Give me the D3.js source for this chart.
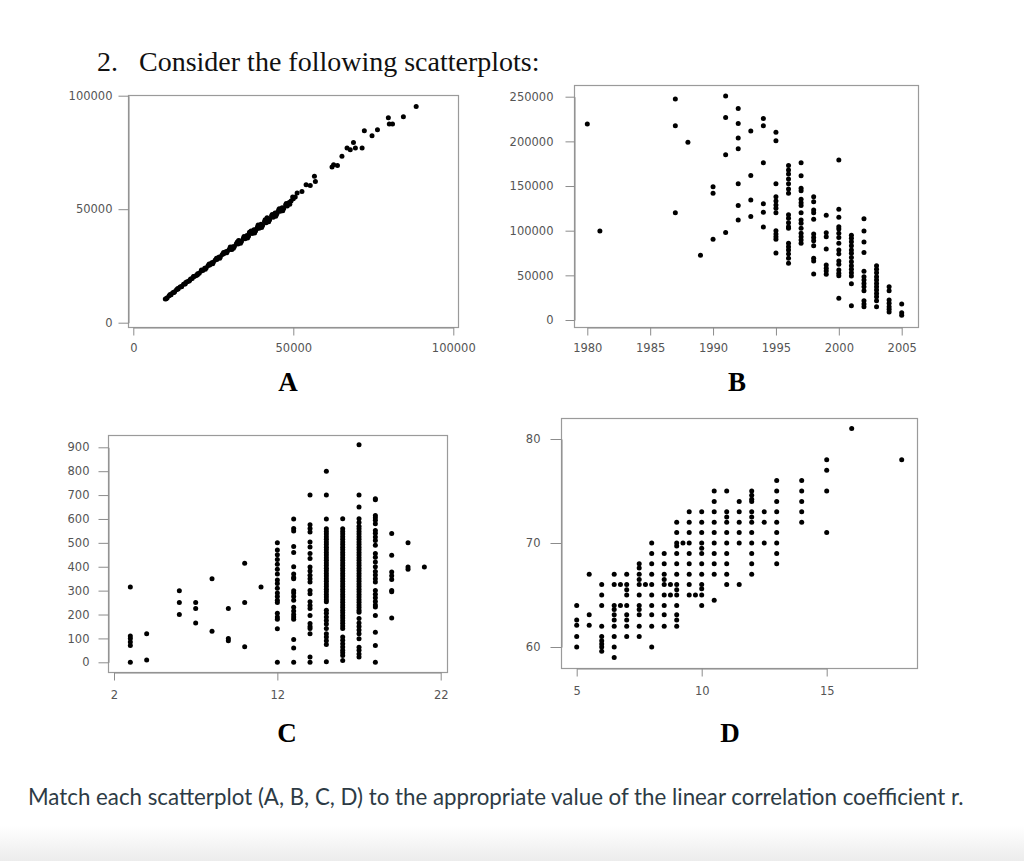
<!DOCTYPE html>
<html>
<head>
<meta charset="utf-8">
<script src="https://cdn.jsdelivr.net/npm/d3@7/dist/d3.min.js"></script>
<style>
  body { margin: 0; background: #fff; }
  .tick text { font-family: "DejaVu Sans", sans-serif; font-size: 11.5px; fill: #555; }
  .tick line, .domain { stroke: #8c8c8c; }
</style>
</head>
<body>
<svg id="chart" width="1024" height="861"></svg>
<script>
// ---- data ----
// A: tight linear cloud
var aPoints = [
  [10000,10400],[10600,11000],[11200,11900],[11800,12300],[12300,13200],[12900,13600],[13500,14500],
  [14000,14800],[14600,15700],[15100,16000],[15700,16900],[16200,17100],[16800,18000],[17300,18300],
  [17900,19200],[18400,19500],[19000,20300],[19500,20700],[20100,21600],[20600,21800],[21200,22800],
  [21700,23000],[22300,24000],[22800,24200],[23400,25200],[23900,25400],[24500,26400],[25000,26600],
  [25600,27600],[26100,27800],[26700,28800],[27200,29100],[27800,30000],[28300,30400],[28900,31300],
  [29400,31500],[30000,32400],[30500,32400],[31100,33500],[31600,33600],[32200,34800],[32700,34700],
  [33300,36000],[33800,35800],[34400,37200],[34900,37000],[35500,38400],[36000,38100],[36600,39600],
  [37100,39300],[37700,41000],[38200,40400],[38800,42200],[39300,41600],[39900,43400],[40400,42800],
  [41000,44600],[41500,44000],[42100,45800],[42600,45300],[43200,47000],[43700,46400],[44300,48300],
  [44800,47800],[45400,49500],[45900,49100],[46500,50600],[47000,50300],[47600,51800],[48100,51400],
  [48700,53000],[49300,53600],[50000,54600],[50600,55400],
  [10300,10500],[11500,12400],[12700,13300],[13900,15100],[15000,15800],[16400,17700],[17600,18600],
  [18800,20400],[20000,21000],[21300,23200],[22500,23600],[23700,25900],[24800,26000],[26000,28400],
  [27000,28400],[28200,30900],[29200,30800],[30300,33300],[31300,32800],[32500,35600],[33500,35000],
  [34600,38000],[35700,37300],[36800,40400],[37900,39500],[39000,43000],[40100,41900],[41200,45300],
  [42300,44500],[43400,47700],[44500,46900],[45600,50200],[46700,49300],[47800,52500],[48900,52200],
  [49800,55400],[45000,48600],[41800,46200],[38500,41300],[36300,39900],[32900,36200],[30800,32200],
  [51200,57100],[52700,57800],[54000,60800],[55300,60400],[56600,64500],[56900,62200],
  [62100,68600],[62600,69600],[63800,69200],[65200,73300],[66800,77000],[67800,76200],[68800,79400],
  [69400,77000],[71500,77000],[72200,84600],[74600,82400],[76300,85000],[79700,90300],[80000,87500],
  [81000,87500],[84400,90700],[88400,95200]
];
var aTicks = [0, 50000, 100000];

// B: values by model year
var bYears = [1980,1981,1987,1988,1989,1990,1991,1992,1993,1994,1995,1996,1997,1998,1999,2000,2001,2002,2003,2004,2005];
var bValues = [
  [219400],
  [99600],
  [247400,217500,120100],
  [198900],
  [72400],
  [149200,141800,90300],
  [250700,226800,185000,98100],
  [236900,220100,203700,191800,152600,128300,111900],
  [211500,161900,134300,116000],
  [225700,217500,176100,130200,120500,104100],
  [210100,200700,152600,138000,133200,128700,125000,120100,100000,96300,93300,90300,75000],
  [173000,167900,163400,157800,152600,146600,141800,117900,113800,108900,104500,102600,85800,82100,78400,73900,69000,63400],
  [176100,161600,147400,144800,135100,131300,128300,120100,111900,108200,102600,97000,93300,89500,85800],
  [138000,132400,123100,120100,112700,96300,92500,88800,83200,69000,66000,51500],
  [117200,97800,93300,79500,61600,57800,54800,51100],
  [179100,123900,114900,104500,101900,97000,92500,85800,78400,73900,66000,62300,56000,52200,49600,24300],
  [94800,91400,87700,83200,78400,74600,70100,65300,60800,56700,53000,49300,40700,16000],
  [113400,99600,87300,75700,54500,48500,44800,41000,37300,32800,21600,17900,14900],
  [60800,56700,53000,48500,44800,41000,37300,33600,29800,26100,21600,14900],
  [37300,32800,22400,18700,14900,11900,9000],
  [17900,8200,5200]
];
var bXTicks = [1980, 1985, 1990, 1995, 2000, 2005];
var bYTicks = [0, 50000, 100000, 150000, 200000, 250000];

// C: values by x
var cX = [3,4,6,7,8,9,10,11,12,13,14,15,16,17,18,19,20,21];
var cValues = [
  [315,110,100,85,70,0],
  [120,10],
  [300,250,200],
  [250,225,165],
  [350,130],
  [225,100,90],
  [415,250,65],
  [315],
  [500,470,450,430,410,390,370,345,330,310,290,275,260,250,205,190,180,140,0],
  [600,560,550,485,460,400,370,355,350,300,290,275,260,230,215,200,190,180,95,60,0],
  [700,576,560,545,504,483,455,434,399,382,364,350,336,301,287,253,238,225,196,162,150,141,120,22,0],
  [800,700,600,559,548,537,526,515,504,493,482,471,460,449,438,427,416,405,394,383,372,361,350,339,328,317,306,295,284,273,262,253,218,205,190,175,160,141,120,106,90,74,2],
  [601,559,548,537,526,515,504,493,482,471,460,449,438,427,416,405,394,383,372,361,350,339,328,317,306,295,284,273,262,251,240,229,218,207,196,185,174,163,152,141,106,92,78,64,50,40,28,8],
  [911,700,650,601,585,570,559,548,537,526,515,504,493,482,471,460,449,438,427,416,405,394,383,372,361,350,339,328,317,306,295,284,273,262,251,240,229,218,210,183,165,150,135,120,99,63,50,35,22],
  [685,680,615,605,595,580,552,540,525,510,490,455,440,420,400,380,365,350,336,301,285,270,255,240,232,196,126,70,0],
  [539,448,378,362,347,301,295,185],
  [500,399,389],
  [399]
];
var cXTicks = [2, 12, 22];
var cYTicks = [0,100,200,300,400,500,600,700,800,900];

// D: values by x
var dX = [5,5.5,6,6.5,6.75,7,7.5,7.75,8,8.5,8.75,9,9.25,9.5,9.75,10,10.5,11,11.5,12,12.5,13,14,15,16,18];
var dValues = [
  [64,62.6,62.1,61,60],
  [67,63.1,62.1],
  [66,65,64,62,61,60.6,60.3,60,59.6],
  [67,66,64,63.6,63.1,62.6,62,61,60,59],
  [66,64],
  [67,66,65.5,65,64,63.1,62.6,62,61],
  [68,67.6,67,66.5,66,65,64,63.6,63.1,62,61],
  [66],
  [70,69,68,67,66,65,64,63.1,62,60],
  [69,68,67,66.5,66,65,64,63.1,62],
  [66,65],
  [72,71,70,69.7,69,68,67,66,65.5,65,64,63.1,62.6,62],
  [70],
  [73,72,71,70,69,68,67,66,65],
  [65],
  [73,72,71,70,69.5,69,68,67,66,65.6,65,64],
  [75,74,73,72,71,70,69,68,67,64.5],
  [75,73,72.5,72,71,70,69,68,67,66],
  [74,73,72,71,70,66],
  [75,74.6,74.2,74,73,72.5,72,71,70,69,68,67],
  [73,72,70],
  [76,75,74,73,72,71,70,69,68],
  [76,75,74,73,72],
  [78,77,75,71],
  [81],
  [78]
];
var dXTicks = [5, 10, 15];
var dYTicks = [60, 70, 80];

// ---- drawing ----
var svg = d3.select("#chart");

var grad = svg.append("defs").append("linearGradient")
  .attr("id", "fade").attr("x1", 0).attr("x2", 0).attr("y1", 0).attr("y2", 1);
grad.append("stop").attr("offset", "0%").attr("stop-color", "#ffffff");
grad.append("stop").attr("offset", "100%").attr("stop-color", "#ececec");
svg.append("rect").attr("x", 0).attr("y", 826).attr("width", 1024).attr("height", 35).attr("fill", "url(#fade)");

function flatten(xs, vals) {
  return xs.flatMap(function(x, i) { return vals[i].map(function(v) { return [x, v]; }); });
}

function scatter(o) {
  var x = d3.scaleLinear().domain(o.xAnchor).range(o.xRange);
  var y = d3.scaleLinear().domain(o.yAnchor).range(o.yRange);
  var g = svg.append("g");

  g.append("rect")
    .attr("x", o.box[0] + 0.5).attr("y", o.box[1] + 0.5)
    .attr("width", o.box[2] - o.box[0]).attr("height", o.box[3] - o.box[1])
    .attr("fill", "none").attr("stroke", "#9a9a9a").attr("stroke-width", 1.2);

  g.append("g")
    .attr("transform", "translate(0," + (o.box[3] + 0.5) + ")")
    .call(d3.axisBottom(x).tickValues(o.xTicks).tickSize(o.xTick[0]).tickPadding(o.xTick[1])
      .tickSizeOuter(0).tickFormat(d3.format("d")));

  g.append("g")
    .attr("transform", "translate(" + (o.box[0] + 0.5) + ",0)")
    .call(d3.axisLeft(y).tickValues(o.yTicks).tickSize(o.yTick[0]).tickPadding(o.yTick[1])
      .tickSizeOuter(0).tickFormat(d3.format("d")));

  g.append("g").selectAll("circle")
    .data(o.points)
    .join("circle")
    .attr("cx", function(d) { return x(d[0]); })
    .attr("cy", function(d) { return y(d[1]); })
    .attr("r", o.r)
    .attr("fill", "#000");

  svg.append("text")
    .attr("x", o.label[1]).attr("y", o.label[2])
    .attr("text-anchor", "middle")
    .attr("font-family", "Liberation Serif, Times New Roman, serif")
    .attr("font-weight", "bold")
    .attr("font-size", 27)
    .attr("fill", "#000")
    .text(o.label[0]);
}

scatter({
  points: aPoints, xTicks: aTicks, yTicks: aTicks,
  xAnchor: [0, 100000], xRange: [133.3, 453.3],
  yAnchor: [0, 100000], yRange: [322.7, 95.7],
  box: [128, 95, 458, 327], xTick: [8, 8], yTick: [10, 6], r: 2.5,
  label: ["A", 288, 391]
});

scatter({
  points: flatten(bYears, bValues), xTicks: bXTicks, yTicks: bYTicks,
  xAnchor: [1980, 2005], xRange: [587.3, 901.7],
  yAnchor: [0, 250000], yRange: [320, 96.7],
  box: [574, 85, 918, 327], xTick: [8, 8], yTick: [9, 12], r: 2.5,
  label: ["B", 737, 391]
});

scatter({
  points: flatten(cX, cValues), xTicks: cXTicks, yTicks: cYTicks,
  xAnchor: [2, 22], xRange: [114, 440.7],
  yAnchor: [0, 900], yRange: [662.3, 447.3],
  box: [108, 435, 447, 672], xTick: [8, 10], yTick: [10, 9], r: 2.5,
  label: ["C", 287, 742]
});

scatter({
  points: flatten(dX, dValues), xTicks: dXTicks, yTicks: dYTicks,
  xAnchor: [5, 15], xRange: [576.7, 826.7],
  yAnchor: [60, 80], yRange: [647, 439],
  box: [561, 418, 917, 668], xTick: [8, 10], yTick: [11, 10], r: 2.5,
  label: ["D", 730, 742]
});

// ---- page text ----
svg.append("text")
  .attr("x", 97).attr("y", 71)
  .attr("font-family", "Liberation Serif, Times New Roman, serif")
  .attr("font-size", 28).attr("fill", "#111")
  .text("2.");
svg.append("text")
  .attr("x", 139).attr("y", 71)
  .attr("font-family", "Liberation Serif, Times New Roman, serif")
  .attr("font-size", 28).attr("fill", "#111")
  .text("Consider the following scatterplots:");

svg.append("text")
  .attr("x", 28).attr("y", 805)
  .attr("font-family", "Lato, sans-serif")
  .attr("font-size", 22.3).attr("fill", "#2d3b45")
  .text("Match each scatterplot (A, B, C, D) to the appropriate value of the linear correlation coefficient r.");
</script>
</body>
</html>
